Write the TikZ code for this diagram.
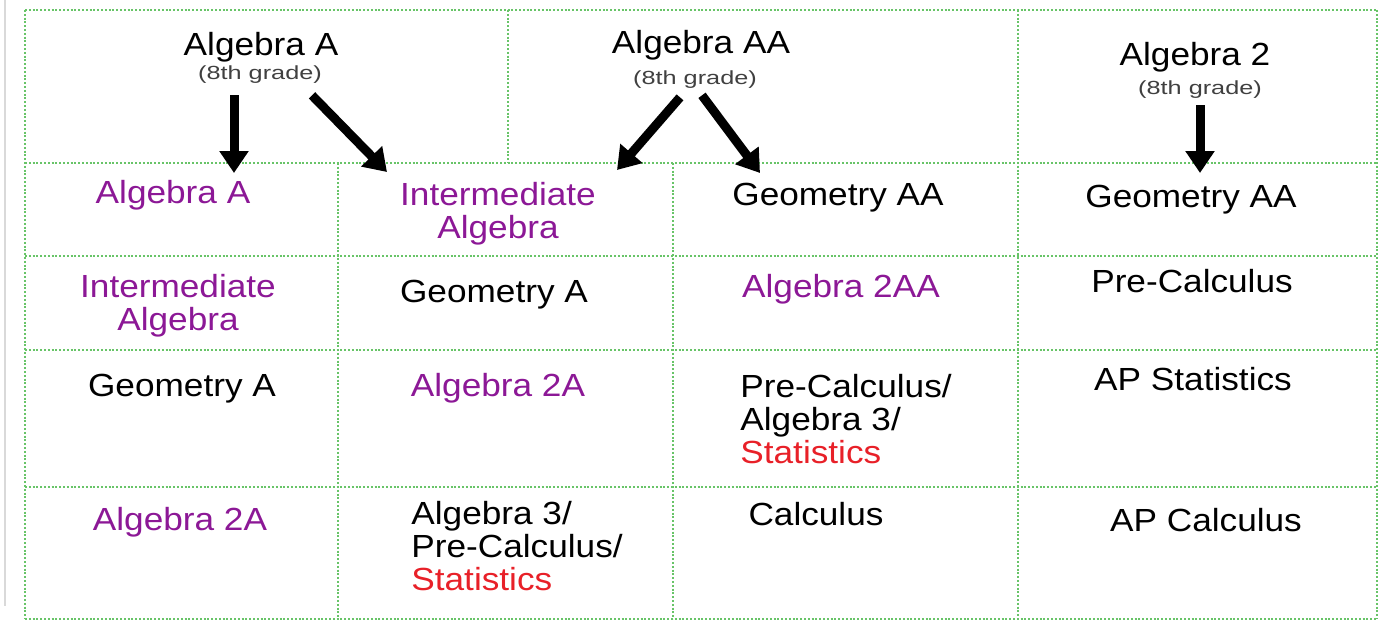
\documentclass[tikz,border=0pt]{standalone}
\usepackage{fontspec}
\setmainfont{Liberation Sans}[FakeStretch=1.1]
\newfontfamily\gradefont{Liberation Sans}[FakeStretch=1.33]
\usetikzlibrary{arrows.meta, positioning, calc}

\definecolor{gridgreen}{RGB}{104,196,104}
\definecolor{coursepurple}{RGB}{140,24,150}
\definecolor{statred}{RGB}{232,32,40}

\begin{document}
\begin{tikzpicture}[x=0.5pt, y=-0.5pt,
    grid/.style={gridgreen, line width=1.4pt, dash pattern=on 1pt off 0.9pt},
    head/.style={font=\fontsize{16}{17}\selectfont, inner sep=0pt, anchor=base},
    grade/.style={font=\gradefont\fontsize{9.5}{10}\selectfont, inner sep=0pt, anchor=base, text=black!75},
    course/.style={font=\fontsize{16}{16.5}\selectfont, inner sep=0pt, anchor=base},
    purp/.style={course, text=coursepurple},
    stack/.style={course, align=left, anchor=base west},
    bigarrow/.style={line width=4.5pt, -{Triangle[width=14pt,length=11pt]}}]
        \useasboundingbox (0,0) rectangle (1380,621);
        \draw[black!15, line width=0.6pt] (5,0) -- (5,606);

        % table lines
        \foreach \y in {10,163,256,350,487,619}
            \draw[grid] (25,\y) -- (1377,\y);
        \foreach \x in {25,1018,1377}
            \draw[grid] (\x,10) -- (\x,619);
        \draw[grid] (508,10) -- (508,163);
        \foreach \x in {338,673}
            \draw[grid] (\x,163) -- (\x,619);

        % 8th grade courses
        \node[head] (hA) at (261,55) {Algebra A};
        \node[grade] (gA) at (260,79) {(8th grade)};
        \node[head] (hAA) at (701,53) {Algebra AA};
        \node[grade] (gAA) at (695,84) {(8th grade)};
        \node[head] (h2) at (1195,65) {Algebra 2};
        \node[grade] (g2) at (1200,94) {(8th grade)};

        % row 2 (base anchor = last line)
        \node[purp] (r2a) at (173,203) {Algebra A};
        \node[purp, align=center] (r2b) at (498,238) {Intermediate\\Algebra};
        \node[course] (r2c) at (838,205) {Geometry AA};
        \node[course] (r2d) at (1191,207) {Geometry AA};

        % row 3
        \node[purp, align=center] (r3a) at (178,330) {Intermediate\\Algebra};
        \node[course] (r3b) at (494,302) {Geometry A};
        \node[purp] (r3c) at (841,297) {Algebra 2AA};
        \node[course] (r3d) at (1192,292) {Pre-Calculus};

        % row 4
        \node[course] (r4a) at (182,396) {Geometry A};
        \node[purp] (r4b) at (498,396) {Algebra 2A};
        \node[stack] (r4c) at (740,463) {Pre-Calculus/\\Algebra 3/\\\textcolor{statred}{Statistics}};
        \node[course] (r4d) at (1193,390) {AP Statistics};

        % row 5
        \node[purp] (r5a) at (180,530) {Algebra 2A};
        \node[stack] (r5b) at (411,590) {Algebra 3/\\Pre-Calculus/\\\textcolor{statred}{Statistics}};
        \node[course] (r5c) at (816,525) {Calculus};
        \node[course] (r5d) at (1206,531) {AP Calculus};

        % arrows into 9th grade
        \coordinate (tipA1) at (234,173);
        \coordinate (tipA2) at (387,172);
        \coordinate (tipAA1) at (617,170);
        \coordinate (tipAA2) at (760,173);
        \coordinate (tip2) at (1200,173);
        \draw[bigarrow] ($(gA.south)+(-26,12)$) -- (tipA1);
        \draw[bigarrow] ($(gA.south)+(52,12)$) -- (tipA2);
        \draw[bigarrow] ($(gAA.south)+(-15,9)$) -- (tipAA1);
        \draw[bigarrow] ($(gAA.south)+(7,7)$) -- (tipAA2);
        \draw[bigarrow] ($(g2.south)+(0,7)$) -- (tip2);
\end{tikzpicture}
\end{document}
